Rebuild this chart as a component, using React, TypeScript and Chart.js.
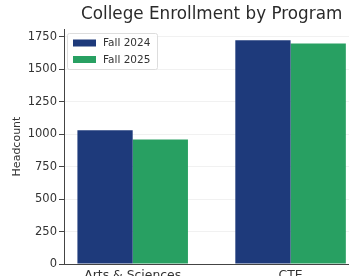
import React, { useEffect, useRef } from "react";
import { Chart, registerables } from "chart.js";

Chart.register(...registerables);

const categories = ["Arts & Sciences", "CTE"];
const fall2024 = [1030, 1725];
const fall2025 = [960, 1700];
const seriesLabels = ["Fall 2024", "Fall 2025"];
const seriesColors = ["#1e3a7b", "#28a062"];
const yTicks = [0, 250, 500, 750, 1000, 1250, 1500, 1750];
const yMax = 1811;
const xMin = -0.435;
const xMax = 1.37;
const titleText = "College Enrollment by Program";
const yTitle = "Headcount";

const FONT = "'DejaVu Sans', sans-serif";

const customPlugin = {
  id: "customDecor",
  afterDraw(chart: any) {
    const ctx = chart.ctx;
    const xs = chart.scales.x;
    const area = chart.chartArea;
    ctx.save();
    ctx.font = `16.8px ${FONT}`;
    ctx.fillStyle = "#2a2a2a";
    ctx.textAlign = "center";
    ctx.textBaseline = "middle";
    const cx = (xs.getPixelForValue(0) + xs.getPixelForValue(categories.length - 1)) / 2;
    ctx.fillText(titleText, cx, 15);
    ctx.restore();

    ctx.save();
    const lx = area.left + 3;
    const ly = area.top + 4;
    const w = 90;
    const h = 36;
    ctx.fillStyle = "rgba(255,255,255,0.85)";
    ctx.strokeStyle = "#dddddd";
    ctx.lineWidth = 1;
    ctx.beginPath();
    if (ctx.roundRect) ctx.roundRect(lx + 0.5, ly + 0.5, w, h, 2);
    else ctx.rect(lx + 0.5, ly + 0.5, w, h);
    ctx.fill();
    ctx.stroke();
    ctx.font = `10.5px ${FONT}`;
    ctx.textAlign = "left";
    ctx.textBaseline = "middle";
    chart.data.datasets.forEach((ds: any, i: number) => {
      const yy = ly + 10 + i * 16.5;
      ctx.fillStyle = ds.backgroundColor;
      ctx.fillRect(lx + 6, yy - 3.5, 23, 7);
      ctx.fillStyle = "#333";
      ctx.fillText(ds.label, lx + 36, yy + 0.5);
    });
    ctx.restore();
  },
};

export default function App() {
  const ref = useRef<HTMLCanvasElement>(null);
  useEffect(() => {
    document.body.style.margin = "0";
    const series = [fall2024, fall2025];
    const chart = new Chart(ref.current as HTMLCanvasElement, {
      type: "bar",
      data: {
        datasets: series.map((vals, si) => ({
          label: seriesLabels[si],
          data: vals.map((v, i) => ({ x: i, y: v })),
          backgroundColor: seriesColors[si],
          borderWidth: 0,
          categoryPercentage: 0.7,
          barPercentage: 1.0,
        })),
      },
      options: {
        animation: false,
        responsive: false,
        maintainAspectRatio: false,
        layout: { padding: { top: 29, right: 0, left: 0, bottom: 0 } },
        plugins: {
          legend: { display: false },
          title: { display: false },
          tooltip: { enabled: false },
        },
        scales: {
          x: {
            type: "linear",
            min: xMin,
            max: xMax,
            offset: false,
            afterBuildTicks: (s: any) => {
              s.ticks = categories.map((_, i) => ({ value: i }));
            },
            afterFit: (s: any) => {
              s.height = 12;
            },
            ticks: {
              autoSkip: false,
              maxRotation: 0,
              padding: 1,
              color: "#333",
              font: { family: FONT, size: 12.4 },
              callback: (v: any) => categories[v] ?? "",
            },
            grid: { display: true, drawOnChartArea: false, drawTicks: true, tickLength: 3, tickColor: "rgba(0,0,0,0)" },
            border: { display: true, color: "#444", width: 1 },
          },
          y: {
            type: "linear",
            min: 0,
            max: yMax,
            z: 1,
            afterBuildTicks: (s: any) => {
              s.ticks = yTicks.map((v) => ({ value: v }));
            },
            afterFit: (s: any) => {
              s.width = 64;
            },
            ticks: {
              padding: 2,
              color: "#333",
              font: { family: FONT, size: 11.5 },
              callback: (v: any) => String(v),
            },
            title: {
              display: true,
              text: yTitle,
              color: "#333",
              font: { family: FONT, size: 11 },
              padding: { top: 11, bottom: 0 },
            },
            grid: {
              color: "rgba(190,190,190,0.22)",
              lineWidth: 1,
              tickLength: 5,
              tickColor: "#444",
            },
            border: { display: true, color: "#444", width: 1 },
          },
        },
      },
      plugins: [customPlugin],
    });
    return () => chart.destroy();
  }, []);
  return (
    <div style={{ width: 349, height: 276, background: "#fff" }}>
      <canvas ref={ref} width={349} height={276} style={{ display: "block", width: 349, height: 276 }} />
    </div>
  );
}
